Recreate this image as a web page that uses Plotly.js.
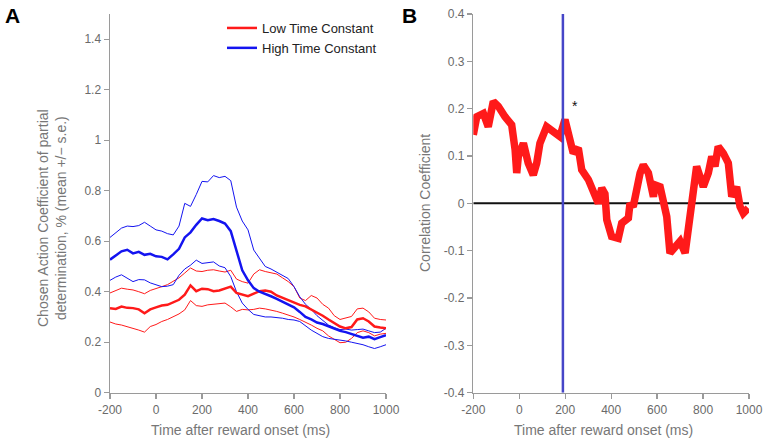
<!DOCTYPE html>
<html>
<head>
<meta charset="utf-8">
<script src="https://cdn.plot.ly/plotly-3.0.1.min.js"></script>
<style>html,body{margin:0;padding:0;background:#fff;}#chart{width:768px;height:443px;}</style>
</head>
<body>
<div id="chart"></div>
<script>
// ---------- Panel A data ----------
const timeA = [-200,-175,-150,-125,-100,-75,-50,-25,0,25,50,75,100,125,150,175,200,225,250,275,300,325,350,375,400,425,450,475,500,525,550,575,600,625,650,675,700,725,750,775,800,825,850,875,900,925,950,975,1000];

const highMean = [0.527,0.545,0.560,0.566,0.552,0.558,0.546,0.550,0.540,0.538,0.528,0.548,0.570,0.615,0.635,0.665,0.690,0.683,0.688,0.680,0.670,0.640,0.560,0.485,0.445,0.414,0.400,0.392,0.382,0.372,0.360,0.350,0.338,0.320,0.300,0.290,0.278,0.272,0.262,0.255,0.245,0.240,0.232,0.225,0.218,0.222,0.212,0.220,0.228];
const highUpper = [0.615,0.635,0.652,0.660,0.658,0.662,0.675,0.660,0.645,0.640,0.630,0.625,0.660,0.750,0.738,0.785,0.837,0.835,0.860,0.852,0.857,0.840,0.735,0.680,0.645,0.565,0.530,0.500,0.490,0.478,0.465,0.452,0.420,0.380,0.350,0.330,0.305,0.285,0.268,0.258,0.250,0.252,0.248,0.250,0.252,0.245,0.238,0.240,0.255];
const highLower = [0.445,0.458,0.467,0.455,0.440,0.448,0.447,0.435,0.427,0.420,0.422,0.428,0.465,0.490,0.505,0.525,0.512,0.515,0.518,0.502,0.495,0.460,0.400,0.355,0.330,0.310,0.305,0.300,0.300,0.298,0.295,0.290,0.288,0.282,0.265,0.248,0.235,0.222,0.215,0.212,0.209,0.205,0.200,0.196,0.190,0.182,0.175,0.182,0.190];

const lowMean = [0.335,0.332,0.341,0.336,0.335,0.330,0.315,0.330,0.338,0.345,0.348,0.358,0.368,0.388,0.425,0.402,0.412,0.410,0.402,0.405,0.412,0.420,0.395,0.390,0.382,0.392,0.402,0.405,0.400,0.385,0.375,0.365,0.355,0.348,0.342,0.330,0.315,0.305,0.290,0.275,0.262,0.255,0.260,0.290,0.295,0.282,0.262,0.258,0.255];
const lowUpper = [0.395,0.405,0.414,0.410,0.407,0.400,0.392,0.405,0.414,0.420,0.428,0.440,0.455,0.474,0.494,0.482,0.480,0.485,0.487,0.482,0.478,0.485,0.450,0.440,0.434,0.470,0.487,0.480,0.475,0.470,0.455,0.440,0.420,0.375,0.365,0.385,0.375,0.350,0.335,0.305,0.290,0.295,0.302,0.332,0.335,0.320,0.295,0.290,0.288];
const lowLower = [0.280,0.272,0.268,0.262,0.255,0.248,0.240,0.262,0.270,0.282,0.290,0.300,0.312,0.328,0.365,0.345,0.342,0.348,0.350,0.352,0.355,0.340,0.322,0.330,0.328,0.330,0.335,0.332,0.328,0.322,0.315,0.308,0.300,0.290,0.280,0.268,0.255,0.245,0.225,0.210,0.198,0.200,0.215,0.238,0.245,0.238,0.225,0.232,0.235];

// ---------- Panel B data ----------
const timeB = [-200,-185,-156,-135,-113,-91,-62,-33,-18,-11,-4,18,39,61,76,90,119,148,177,199,221,235,257,272,301,322,344,359,373,381,402,431,446,475,482,496,504,526,540,562,584,591,613,627,642,656,685,700,722,736,751,772,801,823,838,852,866,888,910,925,946,961,975,997];
const corrB = [0.145,0.183,0.190,0.162,0.215,0.205,0.183,0.166,0.113,0.064,0.099,0.127,0.085,0.060,0.085,0.127,0.162,0.152,0.141,0.177,0.141,0.106,0.117,0.071,0.050,0.029,0.000,0.032,0.020,-0.035,-0.070,-0.074,-0.042,-0.031,0.000,-0.007,0.014,0.064,0.081,0.064,0.014,0.039,0.035,0.007,-0.028,-0.105,-0.084,-0.080,-0.105,-0.049,0.000,0.078,0.035,0.064,0.099,0.078,0.120,0.106,0.085,0.014,0.035,-0.007,-0.021,-0.010];
const markerTime = [190, 190];
const markerRange = [-0.4, 0.4];
const zeroX = [-200, 1000];
const zeroY = [0, 0];

const ticksX = [-200,0,200,400,600,800,1000];
const tickTextX = ['-200','0','200','400','600','800','1000'];
const ticksYA = [0,0.2,0.4,0.6,0.8,1,1.2,1.4];
const tickTextYA = ['0','0.2','0.4','0.6','0.8','1','1.2','1.4'];
const ticksYB = [-0.4,-0.3,-0.2,-0.1,0,0.1,0.2,0.3,0.4];
const tickTextYB = ['-0.4','-0.3','-0.2','-0.1','0','0.1','0.2','0.3','0.4'];

const RED = '#ff1a1a', BLUE = '#1414f0';

const traces = [
  {x: timeA, y: lowUpper, mode:'lines', line:{color:RED, width:1}, showlegend:false, xaxis:'x', yaxis:'y'},
  {x: timeA, y: lowLower, mode:'lines', line:{color:RED, width:1}, showlegend:false, xaxis:'x', yaxis:'y'},
  {x: timeA, y: highUpper, mode:'lines', line:{color:BLUE, width:1}, showlegend:false, xaxis:'x', yaxis:'y'},
  {x: timeA, y: highLower, mode:'lines', line:{color:BLUE, width:1}, showlegend:false, xaxis:'x', yaxis:'y'},
  {x: timeA, y: lowMean, mode:'lines', name:'Low Time Constant', line:{color:RED, width:2.5}, xaxis:'x', yaxis:'y'},
  {x: timeA, y: highMean, mode:'lines', name:'High Time Constant', line:{color:BLUE, width:2.5}, xaxis:'x', yaxis:'y'},
  {x: zeroX, y: zeroY, mode:'lines', line:{color:'#111', width:2}, showlegend:false, xaxis:'x2', yaxis:'y2'},
  {x: timeB, y: corrB, mode:'lines', line:{color:RED, width:7.5}, showlegend:false, xaxis:'x2', yaxis:'y2'},
  {x: markerTime, y: markerRange, mode:'lines', line:{color:'#4646c8', width:2.5}, showlegend:false, xaxis:'x2', yaxis:'y2'}
];

const axisCommon = {
  showline:true, linecolor:'#9a9a9a', linewidth:1.5, ticks:'outside', ticklen:5, tickwidth:1.2,
  tickcolor:'#9a9a9a', tickfont:{family:'Liberation Sans, Arial, sans-serif', size:12, color:'#6a6a6a'},
  showgrid:false, zeroline:false, automargin:false, fixedrange:true
};

const yDom = [1-392.7/443, 1-14/443];
const layout = {
  width:768, height:443,
  margin:{l:0, r:0, t:0, b:0},
  paper_bgcolor:'#fff', plot_bgcolor:'#fff',
  font:{family:'Liberation Sans, Arial, sans-serif'},
  xaxis: Object.assign({}, axisCommon, {domain:[110/768, 386/768], range:[-200,1000], tickvals:ticksX, ticktext:tickTextX, anchor:'y'}),
  yaxis: Object.assign({}, axisCommon, {domain:yDom, range:[0,1.5], tickvals:ticksYA, ticktext:tickTextYA, anchor:'x'}),
  xaxis2: Object.assign({}, axisCommon, {domain:[473.3/768, 749/768], range:[-200,1000], tickvals:ticksX, ticktext:tickTextX, anchor:'y2'}),
  yaxis2: Object.assign({}, axisCommon, {domain:yDom, range:[-0.4,0.4], tickvals:ticksYB, ticktext:tickTextYB, anchor:'x2'}),
  showlegend:true,
  legend:{x:222/768, y:1-13/443, xanchor:'left', yanchor:'top', bgcolor:'rgba(0,0,0,0)',
          font:{size:13, color:'#222', family:'Liberation Sans, Arial, sans-serif'}, tracegroupgap:0},
  annotations:[
    {text:'<b>A</b>', xref:'paper', yref:'paper', x:3/768, y:1-15/443, xanchor:'left', yanchor:'middle', showarrow:false, font:{size:21, color:'#000'}},
    {text:'<b>B</b>', xref:'paper', yref:'paper', x:400/768, y:1-15/443, xanchor:'left', yanchor:'middle', showarrow:false, font:{size:21, color:'#000'}},
    {text:'Chosen Action Coefficient of partial<br>determination, % (mean +/\u2212 s.e.)', xref:'paper', yref:'paper', x:52/768, y:1-218/443, xanchor:'center', yanchor:'middle', textangle:-90, showarrow:false, font:{size:14, color:'#777'}},
    {text:'Time after reward onset (ms)', xref:'paper', yref:'paper', x:240/768, y:1-430/443, xanchor:'center', yanchor:'middle', showarrow:false, font:{size:14, color:'#777'}},
    {text:'Correlation Coefficient', xref:'paper', yref:'paper', x:425/768, y:1-203/443, xanchor:'center', yanchor:'middle', textangle:-90, showarrow:false, font:{size:14, color:'#777'}},
    {text:'Time after reward onset (ms)', xref:'paper', yref:'paper', x:603/768, y:1-430/443, xanchor:'center', yanchor:'middle', showarrow:false, font:{size:14, color:'#777'}},
    {text:'*', xref:'x2', yref:'y2', x:241, y:0.205, xanchor:'center', yanchor:'middle', showarrow:false, font:{size:14, color:'#111'}}
  ]
};

Plotly.newPlot('chart', traces, layout, {displayModeBar:false, staticPlot:true});
</script>
</body>
</html>
